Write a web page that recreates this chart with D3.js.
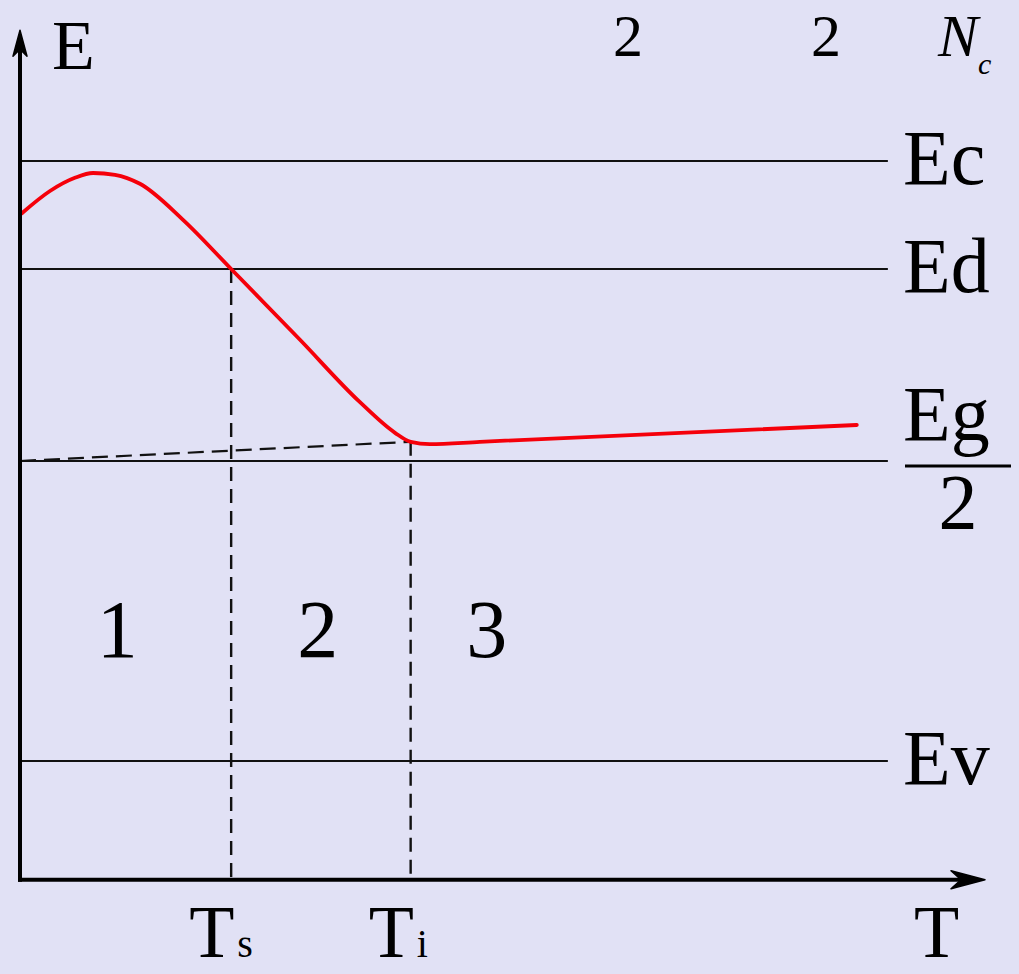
<!DOCTYPE html>
<html>
<head>
<meta charset="utf-8">
<script src="https://cdn.jsdelivr.net/npm/d3@7"></script>
<style>
  html, body { margin: 0; padding: 0; background: #e1e1f5; }
  svg { display: block; }
</style>
</head>
<body>
<svg id="chart" width="1019" height="974"></svg>
<script>
// Energy levels (Ev = 0, Ec = 1) and their labels
const levelNames  = ["Ec", "Ed", "Eg/2", "Ev"];
const levelValues = [1.0, 0.82, 0.5, 0.0];

// Characteristic temperatures on the T axis
const tempNames  = ["T", "T"];
const tempSubs   = ["s", "i"];
const tempValues = [1.0, 1.85];

// Fermi level vs temperature (red curve)
const curveT = [0.009, 0.142, 0.260, 0.346, 0.450, 0.568, 0.772, 1.0, 1.326, 1.61, 1.776, 1.85, 1.941, 2.178, 3.963];
const curveE = [0.913, 0.950, 0.972, 0.980, 0.977, 0.962, 0.902, 0.82, 0.702, 0.598, 0.547, 0.532, 0.528, 0.532, 0.560];

// Intrinsic-level reference (dashed)
const refT = [0.0, 1.85];
const refE = [0.5, 0.532];

// Temperature region numbers
const regionLabels = ["1", "2", "3"];
const regionT = [0.46, 1.41, 2.21];
const regionE = 0.173;

const FONT = "'Liberation Serif', 'Times New Roman', Times, 'DejaVu Serif', serif";

const svg = d3.select("#chart");

const x = d3.scaleLinear().domain([0, 4.57]).range([20, 985]);
const y = d3.scaleLinear().domain([0, 1]).range([761, 161]);
const yBottom = -0.198, yTop = 1.218, levelEnd = 4.11;

function label(parent, px, py, size, str) {
  return parent.append("text")
    .attr("x", px).attr("y", py)
    .attr("font-family", FONT).attr("font-size", size)
    .attr("fill", "#000").text(str);
}

// Energy level lines
svg.append("g").selectAll("line").data(levelValues).join("line")
  .attr("x1", x(0)).attr("x2", x(levelEnd))
  .attr("y1", d => y(d)).attr("y2", d => y(d))
  .attr("stroke", "#111").attr("stroke-width", 2);

// Dashed verticals at Ts and Ti down to the T axis
const dashTop = [0.82, 0.532];
svg.append("g").selectAll("line").data(tempValues).join("line")
  .attr("x1", d => x(d)).attr("x2", d => x(d))
  .attr("y1", (d, i) => y(dashTop[i])).attr("y2", y(yBottom))
  .attr("stroke", "#111").attr("stroke-width", 2.4)
  .attr("stroke-dasharray", "14,8");

// Dashed reference line
svg.append("line")
  .attr("x1", x(refT[0])).attr("y1", y(refE[0]))
  .attr("x2", x(refT[1])).attr("y2", y(refE[1]))
  .attr("stroke", "#111").attr("stroke-width", 2.2)
  .attr("stroke-dasharray", "16,8");

// Fermi level curve
const line = d3.line()
  .x(d => x(d[0])).y(d => y(d[1]))
  .curve(d3.curveMonotoneX);
svg.append("path")
  .datum(d3.zip(curveT, curveE))
  .attr("d", line)
  .attr("fill", "none").attr("stroke", "#f5000a").attr("stroke-width", 3.8)
  .attr("stroke-linejoin", "round").attr("stroke-linecap", "round");

// Axes
const axisColor = "#000";
svg.append("line")
  .attr("x1", x(0)).attr("x2", x(0))
  .attr("y1", y(yBottom) + 2).attr("y2", y(yTop) + 14)
  .attr("stroke", axisColor).attr("stroke-width", 4);
svg.append("line")
  .attr("x1", x(0) - 2).attr("x2", x(4.57) - 14)
  .attr("y1", y(yBottom)).attr("y2", y(yBottom))
  .attr("stroke", axisColor).attr("stroke-width", 4);

// Arrow heads
const yt = [x(0), y(yTop)];
svg.append("path")
  .attr("d", `M${yt[0]},${yt[1]} L${yt[0] + 7},${yt[1] + 26} L${yt[0]},${yt[1] + 19} L${yt[0] - 7},${yt[1] + 26} Z`)
  .attr("fill", axisColor).attr("stroke", axisColor).attr("stroke-width", 1.5).attr("stroke-linejoin", "round");
const xt = [x(4.57), y(yBottom)];
svg.append("path")
  .attr("d", `M${xt[0]},${xt[1]} L${xt[0] - 34},${xt[1] - 9} L${xt[0] - 24},${xt[1]} L${xt[0] - 34},${xt[1] + 9} Z`)
  .attr("fill", axisColor).attr("stroke", axisColor).attr("stroke-width", 1.5).attr("stroke-linejoin", "round");

// Axis titles
label(svg, 52, 69, 70, "E");
label(svg, 914, 957, 74, "T");

// Level labels
const labelX = 903;
levelNames.forEach((name, i) => {
  const yc = y(levelValues[i]);
  if (name === "Eg/2") {
    label(svg, labelX, yc - 21, 78, "Eg");
    svg.append("line").attr("x1", labelX + 2).attr("x2", 1011)
      .attr("y1", yc + 5).attr("y2", yc + 5)
      .attr("stroke", "#000").attr("stroke-width", 3);
    label(svg, 958, yc + 67, 78, "2").attr("text-anchor", "middle");
  } else {
    label(svg, labelX, yc + 23, 78, name);
  }
});

// Temperature labels on the T axis
tempValues.forEach((t, i) => {
  const g = label(svg, x(t) - 42, 957, 74, null);
  g.append("tspan").text(tempNames[i]);
  g.append("tspan").attr("font-size", 40).attr("dx", 3).text(tempSubs[i]);
});

// Region numbers
regionLabels.forEach((r, i) => {
  label(svg, x(regionT[i]), y(regionE), 82, r).attr("text-anchor", "middle");
});

// Formula fragment along the top edge
label(svg, 628, 56, 60, "2").attr("text-anchor", "middle");
label(svg, 826, 56, 60, "2").attr("text-anchor", "middle");
const nc = label(svg, 938, 56, 60, null).attr("font-style", "italic");
nc.append("tspan").text("N");
nc.append("tspan").attr("font-size", 30).attr("dy", 18).text("c");
</script>
</body>
</html>
